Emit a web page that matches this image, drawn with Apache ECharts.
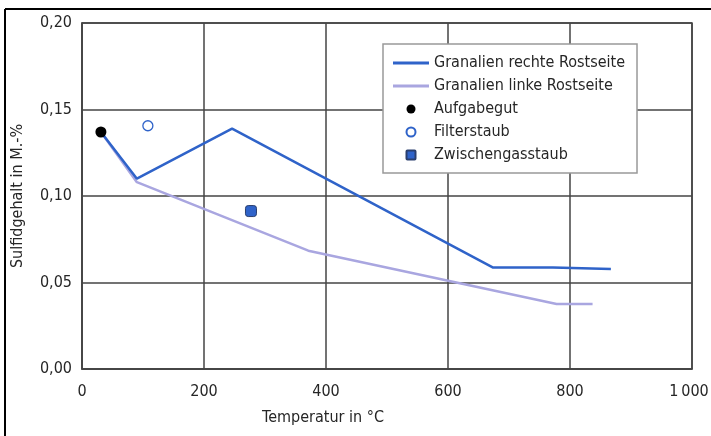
<!DOCTYPE html>
<html>
<head>
<meta charset="utf-8">
<script src="https://cdn.jsdelivr.net/npm/echarts@6/dist/echarts.min.js"></script>
<style>
  html, body { margin: 0; padding: 0; background: #fff; }
  #chart { width: 711px; height: 436px; }
</style>
</head>
<body>
<div id="chart"></div>
<script>
// values
const rightTemp = [31, 90, 246, 674, 772, 774, 867]
const rightSulfid = [0.137, 0.110, 0.139, 0.0586, 0.0586, 0.0578, 0.0578]
const leftTemp = [31, 90, 371, 778, 837]
const leftSulfid = [0.137, 0.108, 0.0684, 0.0376, 0.0376]
const aufgabegut = [[31, 0.137]]
const filterstaub = [[108, 0.1406]]
const zwischengasstaub = [[277, 0.0913]]
const xTicks = [0, 200, 400, 600, 800, 1000]
const yTicks = [0, 0.05, 0.10, 0.15, 0.20]

const C = {
  right: '#2f63c9',
  left: '#a9a6e0',
  grid: '#444',
  text: '#262626'
}
const FONT = '"DejaVu Sans Condensed", "Liberation Sans Narrow", "Liberation Sans", sans-serif'
const FS = 16

const pairs = (xs, ys) => xs.map((x, i) => [x, ys[i]])
const lineIcon = 'path://M0,0 L36,0 L36,3 L0,3 Z'

const chart = echarts.init(document.getElementById('chart'))
chart.setOption({
  animation: false,
  backgroundColor: '#fff',
  textStyle: { fontFamily: FONT },
  // keep the plot box where the reference has it, even if "1 000" touches the edge
  grid: {
    left: 82, right: 19, top: 23, bottom: 67,
    outerBoundsMode: 'none',
    show: true, borderColor: C.grid, borderWidth: 1.5
  },
  title: {
    text: 'Temperatur in °C',
    left: 318,
    top: 405,
    textAlign: 'center',
    textStyle: { fontFamily: FONT, fontSize: FS, fontWeight: 'normal', color: C.text }
  },
  graphic: [
    { type: 'line', shape: { x1: 5, y1: 9, x2: 711, y2: 9 }, style: { stroke: '#000', lineWidth: 2 } },
    { type: 'line', shape: { x1: 5, y1: 9, x2: 5, y2: 436 }, style: { stroke: '#000', lineWidth: 2 } }
  ],
  legend: {
    orient: 'vertical',
    left: 383,
    top: 44,
    padding: [10, 12, 9, 10],
    itemGap: 5,
    itemWidth: 36,
    itemHeight: 9,
    borderColor: '#999',
    borderWidth: 1.5,
    backgroundColor: '#fff',
    textStyle: { fontFamily: FONT, fontSize: FS, color: C.text, lineHeight: 18 },
    data: [
      { name: 'Granalien rechte Rostseite', icon: lineIcon },
      { name: 'Granalien linke Rostseite', icon: lineIcon },
      { name: 'Aufgabegut' },
      { name: 'Filterstaub' },
      { name: 'Zwischengasstaub', icon: 'path://M1,0 L9,0 Q10,0 10,1 L10,9 Q10,10 9,10 L1,10 Q0,10 0,9 L0,1 Q0,0 1,0 Z' }
    ]
  },
  xAxis: {
    type: 'value',
    min: 0,
    max: 1000,
    interval: 200,
    axisLine: { show: true, lineStyle: { color: C.grid, width: 1.5 } },
    axisTick: { show: false },
    axisLabel: {
      margin: 15,
      fontSize: FS,
      color: C.text,
      fontFamily: FONT,
      // thin space as thousands separator; last label nudged left so it stays inside
      formatter: (v) => (xTicks.includes(v) ? (v >= 1000 ? '{end|1\u2009000}' : String(v)) : ''),
      rich: {
        end: { fontSize: FS, color: C.text, fontFamily: FONT, padding: [0, 6, 0, 0] }
      }
    },
    splitLine: { lineStyle: { color: C.grid, width: 1.5 } }
  },
  yAxis: {
    type: 'value',
    min: 0,
    max: 0.2,
    interval: 0.05,
    name: 'Sulfidgehalt in M.-%',
    nameLocation: 'middle',
    nameGap: 56,
    nameTextStyle: { fontFamily: FONT, fontSize: FS, color: C.text },
    axisLine: { show: true, lineStyle: { color: C.grid, width: 1.5 } },
    axisTick: { show: false },
    axisLabel: {
      margin: 10,
      fontSize: FS,
      color: C.text,
      fontFamily: FONT,
      formatter: (v) => v.toFixed(2).replace('.', ',')
    },
    splitLine: { lineStyle: { color: C.grid, width: 1.5 } }
  },
  series: [
    {
      name: 'Granalien linke Rostseite',
      type: 'line',
      symbol: 'none',
      z: 2,
      lineStyle: { color: C.left, width: 2.5 },
      itemStyle: { color: C.left },
      data: pairs(leftTemp, leftSulfid)
    },
    {
      name: 'Granalien rechte Rostseite',
      type: 'line',
      symbol: 'none',
      z: 3,
      lineStyle: { color: C.right, width: 2.5 },
      itemStyle: { color: C.right },
      data: pairs(rightTemp, rightSulfid)
    },
    {
      name: 'Aufgabegut',
      type: 'scatter',
      symbol: 'circle',
      symbolSize: 11,
      z: 4,
      itemStyle: { color: '#000', opacity: 1 },
      data: aufgabegut
    },
    {
      name: 'Filterstaub',
      type: 'scatter',
      symbol: 'circle',
      symbolSize: 10,
      z: 4,
      itemStyle: { color: '#fff', borderColor: C.right, borderWidth: 1.3, opacity: 1 },
      data: filterstaub
    },
    {
      name: 'Zwischengasstaub',
      type: 'scatter',
      symbol: 'roundRect',
      symbolSize: 11,
      z: 4,
      itemStyle: { color: C.right, borderColor: '#2a3f6e', borderWidth: 1, opacity: 1 },
      data: zwischengasstaub
    }
  ]
})
</script>
</body>
</html>
